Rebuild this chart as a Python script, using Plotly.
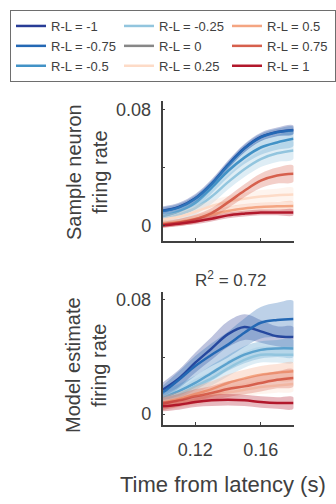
import plotly.graph_objects as go

# ---------------- data ----------------
TIME = [0.10, 0.11, 0.12, 0.13, 0.14, 0.15, 0.16, 0.17, 0.18]
RL_LEVELS = ["-1", "-0.75", "-0.5", "-0.25", "0", "0.25", "0.5", "0.75", "1"]
COLORS = ["#283c96", "#2468b4", "#4292c6", "#92c5de", "#878787",
          "#fddbc7", "#f4a582", "#d6604d", "#b2182b"]

# Sample neuron firing rate (mean)
SAMPLE_MEAN = [
    [0.0102, 0.0128, 0.0188, 0.0290, 0.0420, 0.0535, 0.0613, 0.0648, 0.0662],
    [0.0100, 0.0125, 0.0185, 0.0287, 0.0417, 0.0532, 0.0610, 0.0645, 0.0660],
    [0.0063, 0.0098, 0.0156, 0.0261, 0.0377, 0.0470, 0.0540, 0.0575, 0.0600],
    [0.0040, 0.0075, 0.0120, 0.0200, 0.0300, 0.0390, 0.0460, 0.0500, 0.0520],
    [None, None, None, None, None, None, None, None, None],
    [0.0040, 0.0060, 0.0095, 0.0135, 0.0165, 0.0185, 0.0200, 0.0210, 0.0215],
    [0.0015, 0.0025, 0.0045, 0.0075, 0.0100, 0.0118, 0.0128, 0.0133, 0.0135],
    [0.0005, 0.0020, 0.0044, 0.0086, 0.0160, 0.0240, 0.0310, 0.0346, 0.0358],
    [0.0000, 0.0012, 0.0028, 0.0047, 0.0070, 0.0082, 0.0090, 0.0090, 0.0090],
]
# Sample neuron firing rate (error half-width)
SAMPLE_SEM = [
    [0.0030, 0.0030, 0.0030, 0.0030, 0.0030, 0.0030, 0.0030, 0.0030, 0.0030],
    [0.0025, 0.0025, 0.0025, 0.0025, 0.0025, 0.0025, 0.0025, 0.0025, 0.0025],
    [0.0035, 0.0035, 0.0040, 0.0040, 0.0045, 0.0045, 0.0050, 0.0050, 0.0050],
    [0.0040, 0.0040, 0.0045, 0.0050, 0.0050, 0.0055, 0.0055, 0.0060, 0.0060],
    [None, None, None, None, None, None, None, None, None],
    [0.0035, 0.0035, 0.0040, 0.0040, 0.0040, 0.0040, 0.0045, 0.0045, 0.0045],
    [0.0020, 0.0020, 0.0025, 0.0025, 0.0030, 0.0030, 0.0030, 0.0030, 0.0030],
    [0.0020, 0.0025, 0.0030, 0.0035, 0.0040, 0.0045, 0.0050, 0.0055, 0.0056],
    [0.0015, 0.0015, 0.0020, 0.0020, 0.0020, 0.0020, 0.0020, 0.0020, 0.0020],
]

# Model estimate firing rate (mean)
MODEL_MEAN = [
    [0.0170, 0.0250, 0.0360, 0.0460, 0.0560, 0.0610, 0.0580, 0.0545, 0.0540],
    [0.0147, 0.0240, 0.0337, 0.0416, 0.0487, 0.0570, 0.0640, 0.0660, 0.0667],
    [0.0112, 0.0160, 0.0218, 0.0288, 0.0358, 0.0416, 0.0450, 0.0460, 0.0460],
    [0.0105, 0.0137, 0.0195, 0.0250, 0.0320, 0.0380, 0.0416, 0.0416, 0.0416],
    [None, None, None, None, None, None, None, None, None],
    [0.0060, 0.0080, 0.0100, 0.0130, 0.0150, 0.0170, 0.0190, 0.0200, 0.0210],
    [0.0080, 0.0105, 0.0140, 0.0175, 0.0218, 0.0250, 0.0276, 0.0290, 0.0300],
    [0.0072, 0.0096, 0.0124, 0.0147, 0.0175, 0.0194, 0.0218, 0.0240, 0.0253],
    [0.0054, 0.0065, 0.0084, 0.0096, 0.0100, 0.0096, 0.0084, 0.0077, 0.0077],
]
# Model estimate firing rate (error half-width)
MODEL_SEM = [
    [0.0050, 0.0060, 0.0070, 0.0080, 0.0090, 0.0090, 0.0080, 0.0070, 0.0070],
    [0.0050, 0.0060, 0.0070, 0.0080, 0.0090, 0.0100, 0.0110, 0.0120, 0.0125],
    [0.0050, 0.0050, 0.0050, 0.0055, 0.0055, 0.0060, 0.0060, 0.0060, 0.0060],
    [0.0045, 0.0045, 0.0050, 0.0050, 0.0055, 0.0055, 0.0055, 0.0055, 0.0055],
    [None, None, None, None, None, None, None, None, None],
    [0.0040, 0.0040, 0.0040, 0.0045, 0.0045, 0.0045, 0.0050, 0.0050, 0.0050],
    [0.0050, 0.0050, 0.0055, 0.0055, 0.0060, 0.0060, 0.0060, 0.0060, 0.0060],
    [0.0045, 0.0045, 0.0050, 0.0050, 0.0055, 0.0055, 0.0060, 0.0060, 0.0060],
    [0.0035, 0.0035, 0.0035, 0.0040, 0.0040, 0.0040, 0.0040, 0.0040, 0.0040],
]

R2_TEXT = "R<sup>2</sup> = 0.72"
Y_TICKS = [0, 0.08]
Y_TICKTEXT = ["0", "0.08"]
Y_MINOR_TICKS = [0.04]
X_TICKS = [0.12, 0.16]
X_TICKTEXT = ["0.12", "0.16"]

# ---------------- figure ----------------
W, H = 336, 504
FONT = "Liberation Sans, Arial, Helvetica, sans-serif"
TXT = "#404040"
AX = "#404040"


def rgba(hexc, a):
    h = hexc.lstrip("#")
    r, g, b = int(h[0:2], 16), int(h[2:4], 16), int(h[4:6], 16)
    return f"rgba({r},{g},{b},{a})"


fig = go.Figure()


def add_panel(means, sems, xa, ya, show_legend):
    for i, lvl in enumerate(RL_LEVELS):
        m = means[i]
        s = sems[i]
        col = COLORS[i]
        has_data = not all(v is None for v in m)
        if has_data:
            up = [a + b for a, b in zip(m, s)]
            lo = [a - b for a, b in zip(m, s)]
            fig.add_trace(go.Scatter(
                x=list(TIME) + list(TIME[::-1]), y=up + lo[::-1],
                fill="toself", fillcolor=rgba(col, 0.3),
                line=dict(width=0, shape="spline", smoothing=1),
                mode="lines", hoverinfo="skip", showlegend=False,
                xaxis=xa, yaxis=ya))
        row, colidx = i % 3, i // 3
        fig.add_trace(go.Scatter(
            x=TIME, y=m, mode="lines",
            line=dict(color=col, width=2.5, shape="spline", smoothing=1),
            name=f"R-L = {lvl}", showlegend=show_legend,
            legendrank=row * 3 + colidx + 1,
            xaxis=xa, yaxis=ya))


add_panel(SAMPLE_MEAN, SAMPLE_SEM, "x", "y", True)
add_panel(MODEL_MEAN, MODEL_SEM, "x2", "y2", False)

xdom = [162.5 / W, 293.5 / W]
top_dom = [1 - 240.5 / H, 1 - 101 / H]
bot_dom = [1 - 425 / H, 1 - 291.7 / H]

common_x = dict(range=[0.10, 0.18], domain=xdom, showgrid=False, zeroline=False,
                showline=True, linecolor=AX, linewidth=1.5, ticks="inside",
                ticklen=3, tickcolor=AX, tickvals=X_TICKS,
                tickfont=dict(family=FONT, size=18, color=TXT))
common_y = dict(showgrid=False, zeroline=False, showline=True, linecolor=AX,
                linewidth=1.5, ticks="inside", ticklen=3, tickcolor=AX,
                tickvals=Y_TICKS, ticktext=Y_TICKTEXT, ticklabelstandoff=6,
                minor=dict(tickvals=Y_MINOR_TICKS, ticks="inside", ticklen=3,
                           tickcolor=AX, showgrid=False),
                tickfont=dict(family=FONT, size=18, color=TXT))

fig.update_layout(
    width=W, height=H, autosize=False,
    margin=dict(l=0, r=0, t=0, b=0),
    paper_bgcolor="white", plot_bgcolor="white",
    font=dict(family=FONT, color=TXT),
    xaxis=dict(common_x, anchor="y", showticklabels=False),
    yaxis=dict(common_y, domain=top_dom, range=[-0.0104, 0.0862], anchor="x"),
    xaxis2=dict(common_x, anchor="y2", ticktext=X_TICKTEXT, ticklabelstandoff=8),
    yaxis2=dict(common_y, domain=bot_dom, range=[-0.0077, 0.0858], anchor="x2"),
    legend=dict(orientation="h", x=12 / W, y=1 - 10 / H, xanchor="left",
                yanchor="top", bordercolor="#6e6e6e", borderwidth=1,
                bgcolor="white", entrywidth=63, itemwidth=30,
                font=dict(family=FONT, size=13, color=TXT)),
    annotations=[
        dict(text="Sample neuron<br>firing rate", xref="paper", yref="paper",
             x=87 / W, y=1 - 172 / H, textangle=-90, showarrow=False,
             xanchor="center", yanchor="middle",
             font=dict(family=FONT, size=20, color=TXT)),
        dict(text="Model estimate<br>firing rate", xref="paper", yref="paper",
             x=86 / W, y=1 - 365 / H, textangle=-90, showarrow=False,
             xanchor="center", yanchor="middle",
             font=dict(family=FONT, size=20, color=TXT)),
        dict(text=R2_TEXT, xref="paper", yref="paper",
             x=230 / W, y=1 - 279 / H, showarrow=False,
             xanchor="center", yanchor="middle",
             font=dict(family=FONT, size=17, color=TXT)),
        dict(text="Time from latency (s)", xref="paper", yref="paper",
             x=222.5 / W, y=1 - 484 / H, showarrow=False,
             xanchor="center", yanchor="middle",
             font=dict(family=FONT, size=22, color=TXT)),
    ],
)

fig.write_html(
    "out.html",
    config={"displayModeBar": False},
    post_script="document.body.style.margin='0';document.body.style.padding='0';",
)
